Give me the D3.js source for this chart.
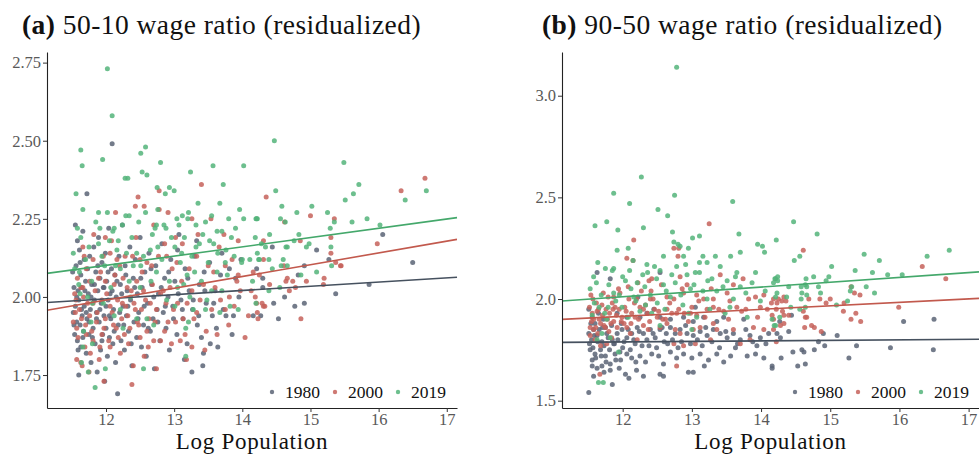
<!DOCTYPE html>
<html>
<head>
<meta charset="utf-8">
<script src="https://cdn.jsdelivr.net/npm/d3@7"></script>
<style>
  html, body { margin: 0; padding: 0; background: #fff; }
  svg { display: block; }
</style>
</head>
<body>
<svg id="chart" width="979" height="454"></svg>
<script>
// ---------- data ----------
const years = ["1980", "2000", "2019"];
const xTicks = [12, 13, 14, 15, 16, 17];
const yTicksA = [1.75, 2.00, 2.25, 2.50, 2.75];
const yTicksB = [1.5, 2.0, 2.5, 3.0];

// fitted lines: [value at log population 12, slope per log point]
const fitA = { "1980": [1.994, 0.0134], "2000": [1.990, 0.0377], "2019": [2.101, 0.0297] };
const fitB = { "1980": [1.789, 0.0025], "2000": [1.915, 0.0171], "2019": [2.011, 0.0238] };

// (a) 50-10 ratio, [log population, residualized ratio]
const r5010_1980 = [
[11.52,1.95],[11.53,2.03],[11.54,1.88],[11.55,2.23],[11.55,1.97],[11.56,2.10],[11.57,1.92],[11.58,2.18],[11.58,1.86],[11.59,2.02],[11.60,1.75],[11.60,1.99],[11.61,2.15],[11.62,1.91],[11.63,2.07],[11.63,1.84],[11.64,2.03],[11.65,1.94],[11.66,2.21],[11.67,1.89],[11.68,2.12],[11.68,1.97],[11.70,2.05],[11.71,1.82],[11.72,2.33],[11.72,1.93],[11.74,2.01],[11.75,1.88],[11.76,2.13],[11.77,1.96],[11.78,1.79],[11.79,2.04],
[11.81,1.90],[11.82,2.16],[11.83,1.99],[11.84,1.85],[11.85,2.08],[11.86,1.95],[11.87,1.76],[11.88,2.02],[11.89,2.19],[11.90,1.92],[11.91,2.06],[11.92,1.83],[11.93,1.98],[11.94,2.11],[11.95,1.88],[11.96,2.03],[11.97,1.94],[11.98,1.73],[11.99,2.14],[12.00,1.90],[12.01,2.05],[12.02,1.81],[12.03,1.99],[12.04,2.22],[12.05,1.87],[12.06,2.01],[12.07,1.93],[12.08,2.09],[12.09,2.49],[12.10,1.85],[12.11,1.96],[12.13,2.07],[12.14,1.79],[12.15,2.00],[12.17,1.69],[12.18,1.91],[12.19,2.13],
[12.21,2.04],[12.22,1.86],[12.24,2.23],[12.25,1.97],[12.27,1.83],[12.28,2.10],[12.30,1.94],[12.31,2.02],[12.33,1.89],[12.35,2.16],[12.36,1.99],[12.38,1.78],[12.40,2.06],[12.41,1.92],[12.43,2.12],[12.45,1.87],[12.46,2.01],[12.48,1.95],[12.50,2.19],[12.52,1.84],[12.53,2.03],[12.55,1.91],[12.57,2.08],[12.59,1.81],
[12.61,1.98],[12.63,2.14],[12.65,1.89],[12.67,2.04],[12.69,1.93],[12.71,1.77],[12.73,2.10],[12.75,1.96],[12.77,2.01],[12.79,1.86],[12.82,2.17],[12.84,1.95],[12.86,2.06],[12.88,1.90],[12.91,2.00],[12.93,1.83],[12.95,2.12],[12.98,1.97],
[13.01,2.05],[13.04,1.88],[13.07,2.20],[13.10,1.99],[13.13,1.93],[13.16,2.09],[13.19,1.85],[13.22,2.02],[13.26,1.76],[13.27,1.96],[13.30,2.13],[13.34,1.91],[13.37,2.04],[13.40,1.87],[13.43,1.82],[13.44,2.08],[13.47,1.98],
[13.52,2.11],[13.53,1.85],[13.56,1.94],[13.60,2.02],[13.64,1.84],[13.68,2.07],[13.72,1.96],[13.76,1.94],[13.81,2.09],[13.87,1.94],[13.90,2.06],[13.95,2.00],
[14.16,1.94],[14.21,2.09],[14.27,1.94],[14.30,2.06],[14.30,2.03],[14.44,2.16],[14.46,1.98],[14.53,1.93],[14.62,2.00],[14.77,1.97],[14.82,2.07],[14.91,2.10],[14.91,1.98],[15.09,2.15],[15.27,2.12],[15.37,2.01],[15.86,2.04],[16.06,2.20],[16.50,2.11],
[11.51,2.08],[11.53,1.91],[11.57,2.00],[11.59,1.83],[11.62,2.11],[11.64,1.96],[11.66,1.87],[11.69,2.02],[11.71,1.95],[11.73,2.09],[11.75,1.92],[11.78,2.00],[11.80,1.87],[11.83,2.04],[11.86,1.93],[11.88,2.10],[11.91,1.96],[11.94,1.86],[11.97,2.03],[12.00,1.97],[12.03,2.08],[12.05,1.94],[12.09,2.02],[12.12,1.89],[12.16,2.05],[12.20,1.95],[12.23,2.01],[12.26,1.91],[12.29,2.07],[12.32,1.97],[12.37,1.85],[12.42,2.03],[12.47,1.93],[12.51,2.06],[12.56,1.97],[12.62,1.90],[12.66,2.09],[12.70,2.00],[12.76,1.92],[12.81,2.03],[12.87,1.97],[12.92,2.08],[12.99,1.93],[13.06,2.01],[13.12,1.96],[13.20,2.06],[13.28,1.99],[13.36,1.94],[13.45,2.02],[13.58,1.98],
[13.05,2.15],[13.15,1.80],[13.33,2.18],[13.62,1.90],[13.70,2.14],[13.85,1.88],[13.98,2.12],[13.42,1.78]
];
const r5010_2000 = [
[13.40,2.36],[12.47,2.32],[12.78,2.34],[12.91,2.27],[12.43,2.29],[12.56,2.29],[12.14,2.27],[11.82,2.20],[11.66,2.16],[11.99,2.19],[12.08,2.18],[12.44,2.19],[12.70,2.23],[12.78,2.28],[12.86,2.17],[13.02,2.19],[13.26,2.25],[13.54,2.25],[13.73,2.20],[13.94,2.18],
[11.68,2.13],[11.81,2.12],[11.96,2.13],[12.06,2.14],[12.16,2.12],[12.28,2.13],[12.39,2.13],[12.50,2.12],[12.60,2.11],[12.77,2.13],[12.89,2.13],[13.04,2.11],[13.33,2.13],[13.58,2.08],[13.75,2.10],[13.94,2.07],[14.16,2.08],
[11.58,2.06],[11.71,2.09],[11.76,2.05],[11.89,2.06],[11.99,2.05],[12.13,2.07],[12.25,2.06],[12.31,2.03],[12.45,2.05],[12.55,2.02],[12.68,2.04],[12.80,2.01],[12.94,2.03],[13.11,2.05],[13.26,2.02],[13.43,2.04],[13.60,2.03],[13.81,2.00],[13.97,2.02],
[11.56,1.99],[11.67,2.00],[11.81,1.98],[11.94,1.99],[12.06,1.97],[12.17,1.99],[12.29,1.97],[12.41,1.98],[12.52,1.96],[12.65,1.98],[12.74,1.96],[12.88,1.98],[12.99,1.96],[13.19,1.98],[13.33,1.95],[13.55,1.96],[13.75,1.96],[13.88,1.97],[14.09,1.94],
[11.55,1.95],[11.64,1.93],[11.76,1.94],[11.86,1.92],[11.99,1.93],[12.11,1.91],[12.23,1.93],[12.35,1.90],[12.46,1.92],[12.60,1.89],[12.72,1.92],[12.86,1.89],[13.02,1.92],[13.16,1.88],[13.29,1.93],[13.47,1.89],[13.63,1.88],
[11.57,1.90],[11.71,1.88],[11.81,1.86],[11.94,1.88],[12.06,1.84],[12.18,1.87],[12.33,1.85],[12.50,1.87],[12.62,1.84],[12.80,1.86],[12.96,1.85],[13.09,1.86],[13.26,1.84],
[11.69,1.84],[11.77,1.82],[11.91,1.84],[12.21,1.82],[11.57,1.80],[11.63,1.79],[11.65,1.78],[12.74,1.77],[11.97,1.73],[14.04,1.87],[11.75,1.76],[12.38,1.72],
[16.68,2.38],[16.33,2.34],[14.35,2.32],[15.00,2.26],[15.35,2.25],[14.62,2.24],[15.30,2.19],[14.85,2.18],[14.31,2.18],[15.98,2.17],[15.30,2.14],[14.31,2.12],[15.37,2.11],[15.44,2.10],[15.45,2.10],[14.61,2.10],[15.20,2.06],[14.94,2.05],[15.19,2.04],[14.74,2.05],[14.66,2.06],[14.64,2.05],[14.69,2.02],[14.78,2.03],[14.40,2.04],[14.25,2.07],[14.13,2.02],[14.19,2.00],[14.21,1.98],[14.29,1.98],[14.33,1.97],[14.31,1.97],[14.22,1.95],[14.23,1.93],[14.86,1.93],
[11.52,1.92],[11.54,2.01],[11.59,1.87],[11.61,1.96],[11.66,2.03],[11.70,1.91],[11.73,1.98],[11.79,1.89],[11.84,2.02],[11.87,1.95],[11.92,2.08],[11.97,1.90],[12.01,2.01],[12.04,1.86],[12.09,1.95],[12.12,2.04],[12.15,1.90],[12.20,2.10],[12.24,1.98],[12.27,1.88],[12.32,1.94],[12.37,2.02],[12.43,1.96],[12.48,1.91],[12.53,2.08],[12.58,1.99],[12.63,1.93],[12.67,2.10],[12.70,1.86],[12.84,2.02],[12.91,1.92],[12.97,2.09],[13.05,1.98],[13.13,1.93],[13.22,2.09],[13.38,1.99],[13.50,2.10],[13.68,1.99],[13.85,2.12],[11.63,2.03],[11.90,1.80],[12.40,1.78],[12.56,1.81],
[13.12,2.17],[13.45,1.83],[13.66,2.16],[13.80,1.91],[13.92,2.05],[13.35,2.20],[13.18,1.80]
];
const r5010_2019 = [
[12.02,2.73],[12.09,2.58],[11.63,2.47],[11.65,2.42],[11.95,2.44],[12.51,2.46],[12.58,2.48],[12.53,2.40],[12.60,2.39],[12.80,2.43],[13.24,2.40],[13.57,2.42],[14.02,2.42],[13.72,2.36],[12.28,2.38],[12.32,2.38],[11.56,2.33],[11.66,2.28],[12.75,2.35],[12.87,2.33],[12.93,2.35],[13.00,2.34],[13.67,2.30],[13.96,2.28],
[13.80,2.25],[14.02,2.25],[14.20,2.25],[11.89,2.27],[12.02,2.27],[12.29,2.26],[12.34,2.26],[12.58,2.27],[12.76,2.28],[12.85,2.23],[12.88,2.22],[12.72,2.22],[12.74,2.23],[13.07,2.23],[13.20,2.25],[13.12,2.26],[13.21,2.27],[13.32,2.23],[13.46,2.24],[13.55,2.26],[13.63,2.21],[13.70,2.21],[11.91,2.22],[12.10,2.21],[12.12,2.22],
[12.18,2.18],[11.63,2.19],[11.75,2.16],[11.89,2.17],[12.16,2.15],[12.30,2.14],[12.45,2.14],[12.65,2.15],[12.76,2.16],[13.01,2.16],[13.11,2.14],[13.32,2.16],[13.37,2.17],[13.64,2.14],[13.76,2.15],[13.88,2.13],[14.00,2.12],[14.11,2.12],[14.22,2.14],
[11.54,2.09],[11.61,2.08],[11.79,2.05],[11.98,2.10],[12.21,2.09],[12.40,2.10],[12.51,2.10],[12.74,2.08],[13.09,2.11],[13.19,2.07],[13.30,2.08],[13.50,2.11],[13.63,2.08],[13.75,2.11],[13.99,2.11],[12.34,2.05],[12.50,2.03],[12.93,2.05],[13.05,2.03],[13.23,2.00],[13.48,1.99],[13.67,1.95],[13.82,1.97],[13.94,1.96],
[11.62,2.01],[11.80,1.98],[11.96,1.98],[12.21,1.96],[12.45,1.93],[12.60,1.93],[13.01,1.97],[13.21,1.92],[13.46,1.96],[11.67,1.89],[12.25,1.90],[13.17,1.90],[11.66,1.84],[11.80,1.85],[12.55,1.77],[13.17,1.81],[11.64,1.79],[11.74,1.76],[11.99,1.77],[11.84,1.71],
[14.47,2.50],[15.49,2.43],[15.71,2.36],[15.63,2.33],[15.51,2.31],[16.70,2.34],[16.39,2.31],[14.49,2.34],[14.58,2.29],[15.02,2.29],[14.80,2.27],[15.25,2.27],[14.21,2.25],[14.22,2.25],[14.56,2.25],[14.63,2.24],[15.35,2.24],[15.61,2.24],[15.83,2.25],[16.02,2.23],[15.29,2.22],[14.83,2.20],[14.40,2.20],[14.19,2.19],[14.28,2.17],[14.34,2.16],[14.76,2.18],[14.98,2.17],[14.94,2.16],[15.30,2.16],[14.64,2.16],[14.66,2.16],[15.31,2.10],[14.24,2.12],[14.25,2.12],[14.39,2.12],[14.60,2.12],[14.57,2.10],[14.66,2.10],[14.44,2.09],[15.09,2.08],[14.86,2.07],[14.15,2.05],[14.55,2.03],[14.39,2.02],[14.20,1.98],
[11.52,2.14],[11.58,2.22],[11.70,2.12],[11.85,2.24],[11.94,2.13],[12.05,2.18],[12.14,2.10],[12.24,2.23],[12.38,2.19],[12.48,2.24],[12.55,2.13],[12.68,2.20],[12.82,2.12],[12.96,2.19],[13.04,2.25],[13.15,2.19],[13.26,2.13],[13.42,2.20],[13.58,2.17],[13.84,2.19],[11.60,2.04],[11.73,2.00],[12.07,2.03],[12.36,2.00],[12.66,2.05],[12.89,1.99],[13.14,2.04],[13.40,2.05],[13.55,2.02],[11.78,1.92],[12.12,1.94],[12.70,1.91],
[13.35,2.30],[13.52,2.18],[13.78,2.07],[13.90,2.22],[13.28,1.96],[13.70,2.02]
];

// (b) 90-50 ratio, [log population, residualized ratio]
const r9050_1980 = [
[11.63,2.13],[11.82,2.10],[12.22,2.01],[12.54,2.13],[11.51,1.95],[11.56,1.91],[11.65,1.93],[11.72,1.90],[11.92,1.93],[12.06,1.91],[12.25,1.91],[12.35,1.93],[12.54,1.91],[12.69,1.90],[12.88,1.91],[13.02,1.89],[13.17,1.91],[13.36,1.89],[13.46,1.91],
[11.51,1.83],[11.58,1.85],[11.55,1.80],[11.63,1.82],[11.70,1.79],[11.77,1.83],[11.85,1.80],[11.92,1.83],[11.99,1.85],[12.06,1.81],[12.13,1.83],[12.21,1.86],[12.30,1.83],[12.40,1.85],[12.47,1.81],[12.54,1.85],[12.63,1.83],[12.69,1.86],[12.76,1.83],[12.83,1.85],[12.93,1.83],[13.02,1.82],[13.12,1.84],[13.22,1.82],[13.31,1.85],[13.41,1.83],[13.51,1.81],[13.60,1.83],[13.70,1.80],[13.84,1.82],[13.99,1.81],[14.11,1.83],
[11.53,1.75],[11.60,1.73],[11.56,1.70],[11.68,1.75],[11.75,1.72],[11.82,1.68],[11.89,1.73],[11.97,1.70],[12.06,1.73],[12.13,1.71],[12.25,1.72],[12.33,1.69],[12.42,1.73],[12.52,1.72],[12.59,1.68],[12.69,1.74],[12.78,1.71],[12.88,1.73],[13.00,1.71],[13.12,1.73],[13.24,1.70],[13.36,1.73],[13.46,1.69],[13.56,1.72],[13.80,1.72],[13.92,1.73],[14.04,1.71],[14.16,1.67],
[11.56,1.67],[11.63,1.66],[11.70,1.67],[11.82,1.65],[11.85,1.58],[12.04,1.63],[12.09,1.61],[12.30,1.62],[12.54,1.63],[12.59,1.62],[12.95,1.64],[13.02,1.64],[13.18,1.67],[11.51,1.54],
[11.60,1.88],[11.75,1.86],[11.88,1.78],[12.00,1.76],[12.18,1.78],[12.38,1.77],[12.60,1.79],[12.80,1.76],[12.98,1.78],[13.15,1.77],[13.40,1.76],[13.66,1.78],[13.94,1.77],[12.45,1.95],[13.05,1.96],[13.75,1.90],
[16.06,1.89],[16.50,1.90],[14.44,1.92],[14.27,1.89],[14.23,1.83],[14.28,1.81],[14.40,1.84],[14.90,1.83],[15.10,1.82],[14.83,1.79],[14.92,1.77],[15.38,1.77],[15.87,1.76],[14.46,1.74],[14.59,1.75],[14.62,1.74],[14.77,1.75],[14.29,1.71],[15.27,1.71],[14.53,1.67],[14.64,1.68],[14.16,1.66],[16.49,1.75],
[11.52,1.78],[11.54,1.88],[11.57,1.76],[11.59,1.82],[11.61,1.71],[11.64,1.79],[11.66,1.85],[11.69,1.72],[11.71,1.86],[11.73,1.77],[11.76,1.69],[11.79,1.81],[11.81,1.75],[11.84,1.87],[11.87,1.78],[11.90,1.70],[11.93,1.80],[11.96,1.74],[11.98,1.88],[12.02,1.79],[12.08,1.85],[12.11,1.75],[12.16,1.80],[12.19,1.69],[12.24,1.84],[12.28,1.77],[12.35,1.80],[12.44,1.83],[12.49,1.76],[12.57,1.86],[12.65,1.78],[12.72,1.80],[12.85,1.79],[12.91,1.87],[13.08,1.80],[13.20,1.86],[13.29,1.79],[13.49,1.84],[13.63,1.76],[13.78,1.85],[13.88,1.79],[14.07,1.78],[11.58,1.62],[11.73,1.64],[11.95,1.66],[12.20,1.65]
];
const r9050_2000 = [
[13.25,2.37],[12.16,2.29],[12.81,2.25],[12.74,2.25],[12.80,2.21],[12.06,2.20],[12.15,2.19],[12.38,2.09],[12.42,2.10],[12.83,2.11],[12.93,2.07],[12.22,2.08],[12.41,2.04],[13.41,2.12],[13.74,2.10],[13.60,2.07],
[11.54,2.02],[11.72,2.03],[11.87,2.01],[11.96,2.03],[12.09,2.00],[12.20,2.00],[12.40,2.00],[12.64,2.01],[12.74,2.00],[12.88,2.03],[13.07,2.02],[13.17,2.00],[13.31,2.00],[13.51,2.03],[13.82,2.00],[13.92,2.01],[14.04,2.02],[14.18,2.00],
[11.56,1.93],[11.65,1.95],[11.71,1.92],[11.85,1.98],[11.89,1.96],[11.81,1.93],[11.99,1.91],[12.05,1.94],[12.13,1.93],[12.25,1.96],[12.30,1.95],[12.36,1.93],[12.46,1.95],[12.50,1.91],[12.64,1.95],[12.71,1.93],[12.81,1.95],[12.89,1.93],[13.00,1.96],[13.07,1.92],[13.22,1.95],[13.31,1.96],[13.46,1.94],[13.65,1.96],[13.72,1.94],[13.99,1.96],[14.09,1.95],[14.23,1.98],
[11.53,1.86],[11.58,1.85],[11.68,1.88],[11.75,1.86],[11.80,1.84],[11.87,1.89],[11.92,1.86],[12.06,1.86],[12.11,1.83],[12.30,1.87],[12.37,1.85],[12.54,1.86],[12.64,1.88],[12.76,1.85],[12.83,1.83],[13.02,1.85],[13.12,1.86],[13.31,1.88],[13.36,1.85],[13.53,1.90],[13.60,1.85],[13.89,1.86],[14.04,1.85],[14.18,1.90],
[11.60,1.80],[11.68,1.77],[11.77,1.78],[12.21,1.80],[12.74,1.78],[12.88,1.77],[13.05,1.78],[13.27,1.80],[13.70,1.78],[13.84,1.80],[12.78,1.67],[11.67,1.63],
[11.58,1.90],[11.62,1.98],[11.78,1.90],[11.95,1.95],[12.02,1.88],[12.18,1.91],[12.58,1.90],[12.95,1.89],
[14.61,2.24],[16.33,2.16],[16.67,2.10],[15.30,2.06],[15.35,2.03],[15.43,2.02],[15.00,2.00],[14.85,2.00],[14.94,1.98],[14.69,2.00],[14.33,2.01],[14.25,2.00],[14.30,1.99],[14.36,1.99],[14.15,1.98],[15.20,1.98],[15.99,1.96],[14.22,1.95],[14.31,1.94],[14.61,1.94],[15.19,1.94],[14.16,1.92],[14.33,1.92],[14.40,1.92],[14.64,1.91],[14.66,1.91],[15.30,1.90],[15.37,1.93],[15.44,1.89],[14.18,1.85],[14.28,1.87],[14.33,1.88],[14.63,1.86],[14.73,1.87],[14.77,1.86],[14.87,1.84],[14.22,1.79],
[11.52,1.96],[11.55,1.89],[11.57,2.00],[11.61,1.86],[11.63,1.94],[11.66,1.90],[11.70,1.97],[11.73,1.87],[11.76,1.95],[11.79,2.01],[11.83,1.88],[11.86,1.95],[11.91,1.92],[11.94,2.05],[11.98,1.89],[12.03,1.96],[12.08,2.06],[12.12,1.88],[12.17,1.98],[12.23,1.90],[12.27,2.04],[12.33,1.97],[12.39,1.89],[12.44,2.00],[12.52,1.94],[12.56,2.07],[12.62,1.90],[12.68,1.98],[12.78,1.93],[12.86,2.05],[12.98,1.93],[13.10,1.99],[13.19,1.91],[13.28,2.05],[13.39,1.95],[13.55,1.99],[13.78,1.95],[13.95,1.91],[11.53,1.82],[11.64,1.83],[11.84,1.81]
];
const r9050_2019 = [
[12.78,3.14],[12.27,2.60],[11.87,2.52],[12.10,2.47],[12.75,2.51],[13.59,2.48],[12.51,2.44],[12.65,2.41],[11.60,2.36],[11.77,2.38],[12.30,2.35],[11.93,2.34],[12.72,2.33],[13.68,2.32],[13.01,2.30],[13.11,2.31],[13.95,2.27],[14.02,2.26],[12.74,2.28],[12.80,2.27],[12.83,2.26],[12.95,2.25],[12.08,2.25],[11.92,2.24],[14.05,2.23],[13.70,2.23],
[12.88,2.21],[12.59,2.21],[13.16,2.21],[13.34,2.21],[13.56,2.21],[11.64,2.18],[12.15,2.19],[12.35,2.17],[12.46,2.16],[12.54,2.14],[12.78,2.16],[12.91,2.17],[13.11,2.18],[13.22,2.18],[13.41,2.16],[13.65,2.13],[13.11,2.13],[13.05,2.13],[13.23,2.09],[11.85,2.14],[11.87,2.15],[11.58,2.11],[11.75,2.15],[12.10,2.14],[12.29,2.12],[12.36,2.13],
[12.04,2.09],[12.21,2.08],[12.59,2.07],[12.76,2.08],[12.98,2.05],[13.36,2.04],[13.51,2.09],[13.70,2.06],[13.87,2.08],[14.06,2.04],[14.21,2.10],[11.87,2.03],[12.16,2.01],[12.50,1.98],[12.69,2.01],[13.22,2.00],[13.60,2.00],[13.99,1.99],[11.59,1.98],[11.99,1.96],[12.25,1.94],[12.42,1.93],[12.95,1.93],[13.07,1.91],[13.48,1.93],[13.80,1.91],
[11.77,1.90],[12.54,1.87],[13.00,1.85],[14.21,1.87],[11.63,1.80],[11.94,1.74],[11.65,1.59],[11.72,1.59],[11.70,1.83],[11.82,1.81],[11.66,1.96],[11.74,1.93],[11.90,1.99],
[14.47,2.38],[14.81,2.32],[14.22,2.29],[14.48,2.19],[14.56,2.21],[15.49,2.22],[15.71,2.19],[16.40,2.21],[16.72,2.24],[15.02,2.16],[15.36,2.14],[15.61,2.13],[15.83,2.12],[16.04,2.12],[14.98,2.11],[14.94,2.09],[14.76,2.11],[14.65,2.10],[14.20,2.10],[14.24,2.11],[14.24,2.09],[14.18,2.08],[14.40,2.06],[14.58,2.06],[14.64,2.07],[14.66,2.06],[14.83,2.06],[15.31,2.06],[15.29,2.04],[15.52,2.06],[15.64,2.03],[14.23,2.03],[14.21,2.01],[14.37,2.01],[14.59,2.03],[14.86,2.03],[14.66,2.02],[15.25,1.99],[15.09,1.97],[14.43,1.96],[14.56,1.95],[14.64,1.96],[14.16,1.90],[14.27,1.91],[14.19,1.87],[14.58,2.00],
[11.53,2.05],[11.62,2.08],[11.69,2.02],[11.80,2.07],[11.95,2.02],[12.00,2.11],[12.12,2.05],[12.19,1.99],[12.32,2.06],[12.40,2.02],[12.49,2.10],[12.63,2.04],[12.71,2.12],[12.84,2.02],[12.93,2.12],[13.03,2.07],[13.16,2.04],[13.29,2.10],[13.45,2.06],[13.63,2.11],[13.78,2.03],[13.92,2.13],[11.56,1.92],[11.79,1.96],[12.08,1.91],[12.33,1.97],[12.61,1.95],[12.87,1.97],[13.26,1.95],[13.55,1.96]
];

// ---------- styling ----------
const pointColor = { "1980": "#5a6475", "2000": "#c6625a", "2019": "#54b47a" };
const lineColor  = { "1980": "#46515f", "2000": "#c2594d", "2019": "#44a86b" };
const serif = "'Liberation Serif', 'DejaVu Serif', serif";

const panels = [
  {
    tag: "(a)", title: "50-10 wage ratio (residualized)",
    left: 47, right: 457, titleX: 22,
    xDomain: [11.134, 17.15], yDomain: [1.6445, 2.784],
    yTicks: yTicksA, yFormat: d3.format(".2f"),
    series: { "1980": r5010_1980, "2000": r5010_2000, "2019": r5010_2019 },
    fit: fitA, legendX: 272
  },
  {
    tag: "(b)", title: "90-50 wage ratio (residualized)",
    left: 562, right: 979, titleX: 542,
    xDomain: [11.123, 17.15], yDomain: [1.464, 3.215],
    yTicks: yTicksB, yFormat: d3.format(".1f"),
    series: { "1980": r9050_1980, "2000": r9050_2000, "2019": r9050_2019 },
    fit: fitB, legendX: 795
  }
];

const plotTop = 52, plotBottom = 408;
const svg = d3.select("#chart");

panels.forEach(p => {
  const x = d3.scaleLinear().domain(p.xDomain).range([p.left, p.right]);
  const y = d3.scaleLinear().domain(p.yDomain).range([plotBottom, plotTop]);
  const g = svg.append("g");

  // title
  const t = g.append("text")
    .attr("x", p.titleX).attr("y", 34)
    .attr("font-family", serif).attr("font-size", 27.5)
    .attr("letter-spacing", 0.45).attr("fill", "#111");
  t.append("tspan").attr("font-weight", "bold").text(p.tag);
  t.append("tspan").text(" " + p.title);

  // points, one layer per year
  years.forEach(yr => {
    g.append("g").selectAll("circle")
      .data(p.series[yr])
      .join("circle")
      .attr("cx", d => x(d[0]))
      .attr("cy", d => y(d[1]))
      .attr("r", 2.5)
      .attr("fill", pointColor[yr])
      .attr("fill-opacity", 0.85);
  });

  // fitted lines across the full x range
  years.forEach(yr => {
    const [b12, slope] = p.fit[yr];
    const f = v => b12 + slope * (v - 12);
    g.append("line")
      .attr("x1", x(p.xDomain[0])).attr("y1", y(f(p.xDomain[0])))
      .attr("x2", x(p.xDomain[1])).attr("y2", y(f(p.xDomain[1])))
      .attr("stroke", lineColor[yr]).attr("stroke-width", 1.6);
  });

  // axes
  const xAxis = g.append("g").attr("transform", `translate(0,${plotBottom})`)
    .call(d3.axisBottom(x).tickValues(xTicks).tickFormat(d3.format("d"))
      .tickSize(4).tickSizeOuter(0).tickPadding(1));
  const yAxis = g.append("g").attr("transform", `translate(${p.left},0)`)
    .call(d3.axisLeft(y).tickValues(p.yTicks).tickFormat(p.yFormat)
      .tickSize(4).tickSizeOuter(0).tickPadding(2));
  [xAxis, yAxis].forEach(a => {
    a.attr("font-family", serif);
    a.select(".domain").attr("stroke", "#222").attr("stroke-width", 1.1);
    a.selectAll(".tick line").attr("stroke", "#333");
    a.selectAll(".tick text").attr("fill", "#595959")
      .attr("font-family", serif).attr("font-size", 16.5);
  });

  // x axis title
  g.append("text")
    .attr("x", (p.left + p.right) / 2).attr("y", 449)
    .attr("text-anchor", "middle")
    .attr("font-family", serif).attr("font-size", 23)
    .attr("letter-spacing", 0.7).attr("fill", "#111")
    .text("Log Population");

  // legend
  const lg = g.append("g").attr("transform", `translate(${p.legendX},392)`);
  years.forEach((yr, i) => {
    const item = lg.append("g").attr("transform", `translate(${i * 63},0)`);
    item.append("circle").attr("r", 2.2).attr("fill", pointColor[yr]).attr("fill-opacity", 0.85);
    item.append("text").attr("x", 13).attr("y", 6)
      .attr("font-family", serif).attr("font-size", 17.5).attr("fill", "#111")
      .text(yr);
  });
});
</script>
</body>
</html>
